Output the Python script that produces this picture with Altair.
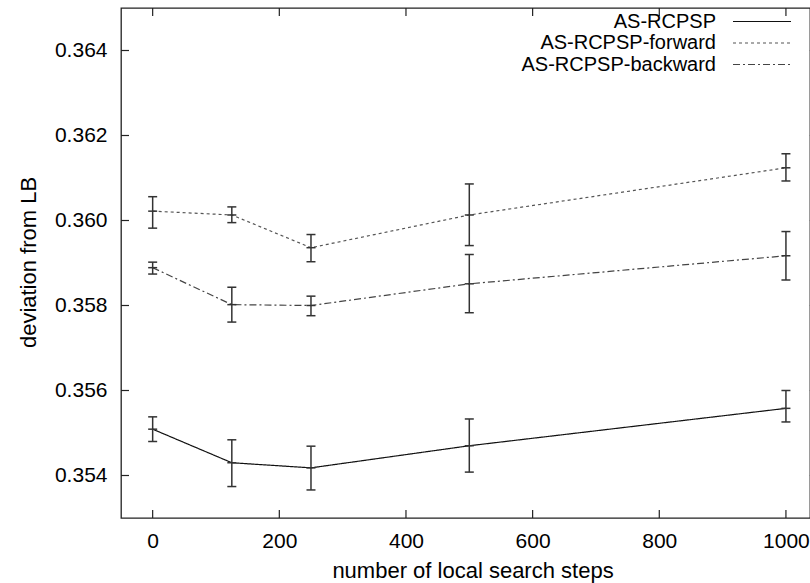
import altair as alt
import pandas as pd

steps = [0, 125, 250, 500, 1000]
series_names = ["AS-RCPSP", "AS-RCPSP-forward", "AS-RCPSP-backward"]

as_mean = [0.35509, 0.35430, 0.35418, 0.35470, 0.35558]
as_lo = [0.35480, 0.35374, 0.35366, 0.35408, 0.35526]
as_hi = [0.35538, 0.35484, 0.35469, 0.35533, 0.35600]

fw_mean = [0.36022, 0.36013, 0.35936, 0.36013, 0.36124]
fw_lo = [0.35982, 0.35995, 0.35903, 0.35941, 0.36093]
fw_hi = [0.36056, 0.36032, 0.35967, 0.36086, 0.36157]

bw_mean = [0.35889, 0.35802, 0.35800, 0.35851, 0.35917]
bw_lo = [0.35874, 0.35761, 0.35776, 0.35783, 0.35860]
bw_hi = [0.35902, 0.35843, 0.35822, 0.35920, 0.35974]

x_ticks = [0, 200, 400, 600, 800, 1000]
y_ticks = [0.354, 0.356, 0.358, 0.360, 0.362, 0.364]

rows = []
for name, m, lo, hi in zip(series_names,
                           [as_mean, fw_mean, bw_mean],
                           [as_lo, fw_lo, bw_lo],
                           [as_hi, fw_hi, bw_hi]):
    for s, a, b, c in zip(steps, m, lo, hi):
        rows.append({"series": name, "step": s, "mean": a, "lo": b, "hi": c})
df = pd.DataFrame(rows)
yt_df = pd.DataFrame({"v": y_ticks})
xt_df = pd.DataFrame({"v": x_ticks})
leg_df = pd.DataFrame({"series": series_names, "rank": [0, 1, 2]})

FONT = "Liberation Sans"
xscale = alt.Scale(domain=[-50, 1038], nice=False, zero=False)
yscale = alt.Scale(domain=[0.353, 0.365], nice=False, zero=False)

xaxis = alt.Axis(values=x_ticks, format="d", ticks=False, tickSize=0, domain=False, grid=False,
                 labelPadding=29, labelBaseline="alphabetic", labelFontSize=21,
                 labelFont=FONT, labelColor="#000", labelFlush=False, labelOverlap=False,
                 title="number of local search steps", titleFont=FONT, titleFontSize=22,
                 titleFontWeight="normal", titleColor="#000",
                 titleX=351.5, titleY=59, titleBaseline="alphabetic", titleAlign="center")
yaxis = alt.Axis(values=y_ticks, format=".3f", ticks=False, tickSize=0, domain=False, grid=False,
                 labelPadding=14, labelFontSize=21, labelFont=FONT, labelColor="#000",
                 labelOverlap=False,
                 title="deviation from LB", titleFont=FONT, titleFontSize=22,
                 titleFontWeight="normal", titleColor="#000",
                 titleX=-86, titleY=254, titleBaseline="alphabetic", titleAlign="center",
                 titleAngle=270)

dash_scale = alt.Scale(domain=series_names, range=[[1, 0], [3, 3], [7, 3, 2, 3]])
color_scale = alt.Scale(domain=series_names, range=["#111111", "#555555", "#444444"])

base = alt.Chart(df)

lines = base.mark_line(strokeWidth=1.2).encode(
    x=alt.X("step:Q", scale=xscale, axis=xaxis),
    y=alt.Y("mean:Q", scale=yscale, axis=yaxis),
    strokeDash=alt.StrokeDash("series:N", scale=dash_scale, legend=None),
    color=alt.Color("series:N", scale=color_scale, legend=None),
)

err = base.mark_rule(color="#333333", strokeWidth=1.5).encode(
    x=alt.X("step:Q", scale=xscale, axis=xaxis),
    y=alt.Y("lo:Q", scale=yscale, axis=yaxis),
    y2="hi:Q",
)

def cap(field):
    return base.mark_rule(color="#333333", strokeWidth=1.5, xOffset=-4.5, x2Offset=4.5).encode(
        x=alt.X("step:Q", scale=xscale, axis=xaxis),
        x2=alt.X2("step"),
        y=alt.Y(f"{field}:Q", scale=yscale, axis=yaxis),
    )

caps = cap("lo") + cap("hi") + cap("mean")

ytick_l = alt.Chart(yt_df).mark_rule(color="#222222", strokeWidth=1.2).encode(
    y=alt.Y("v:Q", scale=yscale, axis=yaxis), x=alt.value(0), x2=alt.value(8))
ytick_r = alt.Chart(yt_df).mark_rule(color="#888888", strokeWidth=1.2).encode(
    y=alt.Y("v:Q", scale=yscale, axis=yaxis), x=alt.value(688), x2=alt.value(696))
xtick_b = alt.Chart(xt_df).mark_rule(color="#222222", strokeWidth=1.2).encode(
    x=alt.X("v:Q", scale=xscale, axis=xaxis), y=alt.value(510), y2=alt.value(502))
xtick_t = alt.Chart(xt_df).mark_rule(color="#222222", strokeWidth=1.2).encode(
    x=alt.X("v:Q", scale=xscale, axis=xaxis), y=alt.value(0), y2=alt.value(8))

main = alt.layer(ytick_l, ytick_r, xtick_b, xtick_t, lines, err, caps)

leg_y = alt.Y("rank:Q", scale=alt.Scale(domain=[0, 2], range=[13.5, 56.5], nice=False, zero=False),
              axis=None)
leg_text = alt.Chart(leg_df).mark_text(align="right", baseline="middle", fontSize=20,
                                       font=FONT, color="#000000").encode(
    text="series:N", y=leg_y, x=alt.value(595))
leg_line = alt.Chart(leg_df).mark_rule(strokeWidth=1.2).encode(
    y=leg_y, x=alt.value(612), x2=alt.value(670),
    strokeDash=alt.StrokeDash("series:N", scale=dash_scale, legend=None),
    color=alt.Color("series:N", scale=color_scale, legend=None),
)
legend = alt.layer(leg_text, leg_line)

chart = alt.layer(main, legend).resolve_scale(y="independent").properties(
    width=689, height=510,
    padding={"left": 121, "top": 8, "right": 0, "bottom": 65},
    autosize=alt.AutoSizeParams(type="none"),
    background="white",
).configure_view(stroke="#222222", strokeWidth=1.3)

chart.save("out.html", embed_options={"renderer": "svg", "actions": False})
